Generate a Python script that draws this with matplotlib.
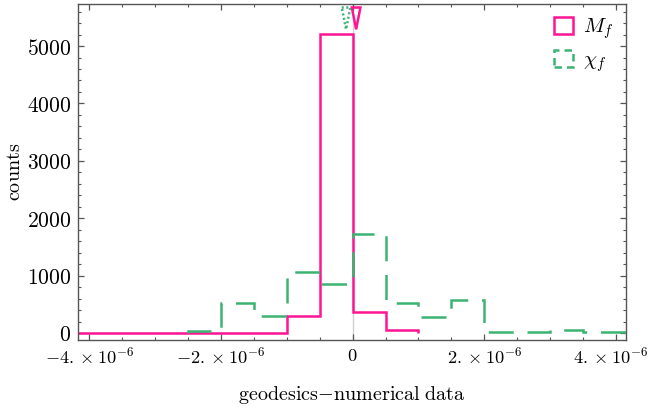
import numpy as np
import matplotlib
matplotlib.use("Agg")
import matplotlib.pyplot as plt
from matplotlib.patches import Patch, Polygon
from matplotlib.ticker import MultipleLocator, FuncFormatter
import matplotlib.transforms as mtransforms

plt.rcParams['mathtext.fontset'] = 'cm'
plt.rcParams['font.family'] = ['DejaVu Serif']

# histogram data (bin edges in units of 1e-6)
mf_edges = [-4.5, -4.0, -3.5, -3.0, -2.5, -2.0, -1.5, -1.0, -0.5, 0.0, 0.5, 1.0]
mf_counts = [0, 0, 0, 0, 0, 0, 0, 300, 5210, 365, 45]

chi_edges = [-2.5, -2.0, -1.5, -1.0, -0.5, 0.0, 0.5, 1.0, 1.5, 2.0, 2.5, 3.0, 3.5, 4.0, 4.5]
chi_counts = [35, 520, 300, 1070, 850, 1720, 530, 285, 575, 10, 10, 45, 10, 10]

# mean markers (units of 1e-6)
mf_mean = 0.053
chi_mean = -0.1

x_ticks = [-4, -2, 0, 2, 4]
y_ticks = [0, 1000, 2000, 3000, 4000, 5000]

PINK = '#ff1493'
GREEN = '#3cb371'
FRAME = '#555555'


def fmt_x(v, pos):
    m = v / 1e-6
    if abs(m) < 1e-9:
        return r'$0$'
    return r'$%d.\times 10^{-6}$' % round(m)


def mean_marker(ax, x, color, ls):
    # narrow downward triangle hanging from the top of the frame
    half_w = 0.065e-6
    trans = mtransforms.blended_transform_factory(ax.transData, ax.transAxes)
    tri = Polygon([(x - half_w, 0.99), (x + half_w, 0.99), (x, 0.925)],
                  closed=True, fill=False, edgecolor=color, lw=1.8,
                  linestyle=ls, transform=trans, clip_on=False, zorder=5)
    ax.add_patch(tri)


fig = plt.figure(figsize=(6.5, 4.15), dpi=100)
ax = fig.add_axes([0.12, 0.181, 0.843, 0.809])

ax.axvline(0, color='#d0d0d0', lw=1.0, zorder=1)

e_mf = np.array(mf_edges) * 1e-6
e_chi = np.array(chi_edges) * 1e-6
ax.stairs(mf_counts, e_mf, color=PINK, lw=1.8, zorder=2)
ax.stairs(chi_counts, e_chi, color=GREEN, lw=1.8, linestyle=(0, (10, 5.5)), zorder=3)

mean_marker(ax, mf_mean * 1e-6, PINK, '-')
mean_marker(ax, chi_mean * 1e-6, GREEN, (0, (0.8, 1.0)))

ax.set_xlim(-4.17e-6, 4.15e-6)
ax.set_ylim(-120, 5730)

ax.set_xticks(np.array(x_ticks) * 1e-6)
ax.xaxis.set_major_formatter(FuncFormatter(fmt_x))
ax.xaxis.set_minor_locator(MultipleLocator(0.5e-6))
ax.set_yticks(y_ticks)
ax.set_yticklabels([r'$%d$' % t for t in y_ticks])
ax.yaxis.set_minor_locator(MultipleLocator(200))

for s in ax.spines.values():
    s.set_color(FRAME)
    s.set_linewidth(1.0)
ax.tick_params(which='both', direction='in', top=True, right=True, color=FRAME)
ax.tick_params(axis='x', labelsize=13.2)
ax.tick_params(axis='y', labelsize=15.5)
ax.tick_params(which='major', length=4.5, width=0.9, pad=5)
ax.tick_params(which='minor', length=2.5, width=0.8)

# keep the rightmost tick label inside the image
last = ax.get_xticklabels()[-1]
last.set_transform(last.get_transform()
                   + mtransforms.ScaledTranslation(-6 / 100, 0, fig.dpi_scale_trans))

ax.set_xlabel(r'$\mathrm{geodesics{-}numerical\;data}$', fontsize=14.5, labelpad=12)
ax.set_ylabel(r'$\mathrm{counts}$', fontsize=14.5, labelpad=2)

handles = [Patch(facecolor='none', edgecolor=PINK, lw=1.8),
           Patch(facecolor='none', edgecolor=GREEN, lw=1.8, linestyle=(0, (3, 2)))]
ax.legend(handles, [r'$M_f$', r'$\chi_f$'], loc='upper right', frameon=False,
          fontsize=15, handlelength=0.9, handleheight=0.9, labelspacing=0.4,
          handletextpad=0.5, borderaxespad=0.1, borderpad=0.5)

fig.savefig('out.png', dpi=100)
